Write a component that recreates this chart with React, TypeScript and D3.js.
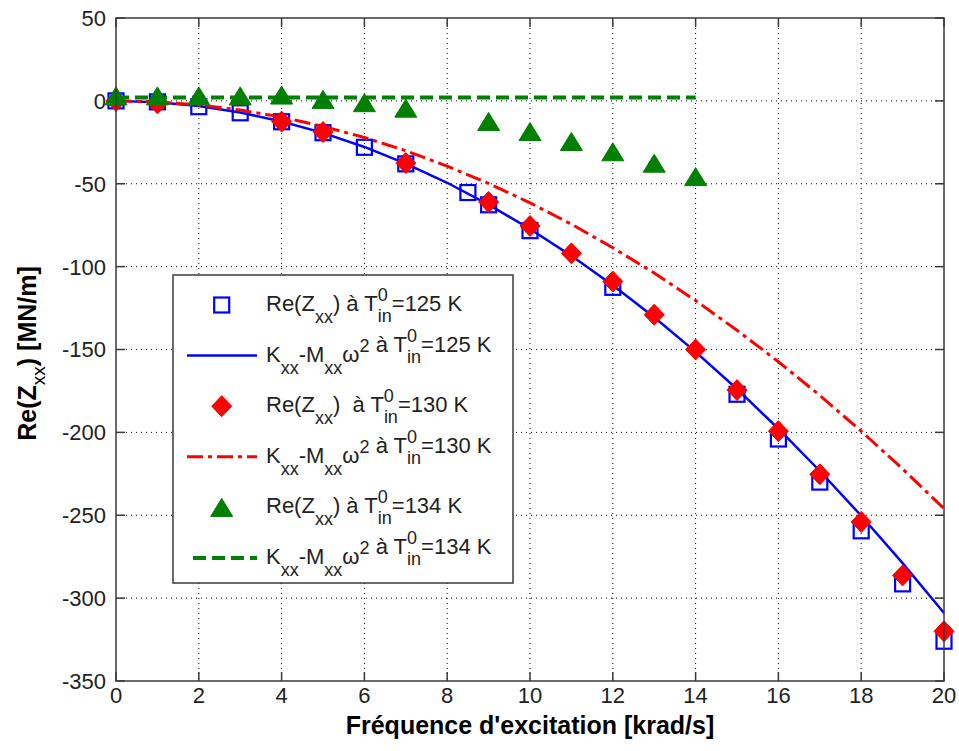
import React from "react";
import * as d3 from "d3";

// Reference data
const freqSquares = [0, 1, 2, 3, 4, 5, 6, 7, 8.5, 9, 10, 12, 15, 16, 17, 18, 19, 20];
const reSquares125 = [0, -0.6, -3.5, -7.2, -12.6, -19.2, -28, -38, -55.3, -62.7, -78.3, -112.5, -177, -204, -230, -259.4, -291.4, -326];

const freqDiamonds = [0, 1, 4, 5, 7, 9, 10, 11, 12, 13, 14, 15, 16, 17, 18, 19, 20];
const reDiamonds130 = [0, -1.5, -12.5, -18.8, -37.5, -61, -75.5, -92, -109, -129, -150, -174.5, -199.3, -225.3, -254, -286.3, -320];

const freqTriangles = [0, 1, 2, 3, 4, 5, 6, 7, 9, 10, 11, 12, 13, 14];
const reTriangles134 = [3, 3, 3, 3, 3.5, 0.9, -1.1, -4.4, -12.4, -18.5, -24.5, -30.7, -37.6, -45.7];

// model curves K - M w^2
const freqModel = [0, 1, 2, 3, 4, 5, 6, 7, 8, 9, 10, 11, 12, 13, 14, 15, 16, 17, 18, 19, 20];
const model125 = [0, -0.8, -3.1, -7, -12.4, -19.3, -27.8, -37.9, -49.4, -62.6, -77.3, -93.5, -111.2, -130.6, -151.4, -173.8, -197.8, -223.3, -250.3, -278.9, -309];
const model130 = [0, -0.6, -2.5, -5.5, -9.8, -15.4, -22.1, -30.1, -39.4, -49.8, -61.5, -74.4, -88.6, -103.9, -120.5, -138.4, -157.4, -177.7, -199.3, -222, -246];
const freqModel134 = [0, 1, 2, 3, 4, 5, 6, 7, 8, 9, 10, 11, 12, 13, 14];
const model134 = [2, 2, 2, 2, 2, 2, 2, 2, 2, 2, 2, 2, 2, 2, 2];

const xTicks = [0, 2, 4, 6, 8, 10, 12, 14, 16, 18, 20];
const yTicks = [50, 0, -50, -100, -150, -200, -250, -300, -350];
const legendTemps = ["125", "130", "134"];

const width = 959;
const height = 751;
const left = 116, right = 944, top = 18, bottom = 681;
const font = "'Liberation Sans', Arial, sans-serif";
const axisColor = "#3a3a3a";

const BLUE = "#0000ff";
const RED = "#ff0000";
const GREEN = "#008000";

const x = d3.scaleLinear().domain([0, 20]).range([left, right]);
const y = d3.scaleLinear().domain([-350, 50]).range([bottom, top]);

const square = (cx: number, cy: number, key: any) => (
  <rect key={key} x={cx - 7.5} y={cy - 7.5} width={15} height={15} fill="none" stroke={BLUE} strokeWidth={2.2} />
);
const diamond = (cx: number, cy: number, key: any) => (
  <path key={key} d={`M${cx},${cy - 10.5}L${cx + 10},${cy}L${cx},${cy + 10.5}L${cx - 10},${cy}Z`} fill={RED} stroke={RED} strokeWidth={1} />
);
const triangle = (cx: number, cy: number, key: any) => (
  <path key={key} d={`M${cx},${cy - 9}L${cx + 11},${cy + 9}L${cx - 11},${cy + 9}Z`} fill={GREEN} stroke={GREEN} strokeWidth={1} />
);

// T^0_in with stacked super/subscript
const TempLabel = ({ temp }: { temp: string }) => (
  <>
    <tspan> à T</tspan>
    <tspan fontSize={18} dy={-10}>0</tspan>
    <tspan fontSize={18} dx={-10} dy={21}>in</tspan>
    <tspan dy={-11}>={temp} K</tspan>
  </>
);

const ReLabel = ({ temp, extraSpace }: { temp: string; extraSpace?: boolean }) => (
  <>
    <tspan>Re(Z</tspan>
    <tspan fontSize={18} dy={12}>xx</tspan>
    <tspan dy={-12}>){extraSpace ? "\u00a0" : ""}</tspan>
    <TempLabel temp={temp} />
  </>
);

const ModelLabel = ({ temp }: { temp: string }) => (
  <>
    <tspan>K</tspan>
    <tspan fontSize={18} dy={12}>xx</tspan>
    <tspan dy={-12}>-M</tspan>
    <tspan fontSize={18} dy={12}>xx</tspan>
    <tspan dy={-12}>ω</tspan>
    <tspan fontSize={18} dy={-10}>2</tspan>
    <tspan dy={10}></tspan>
    <TempLabel temp={temp} />
  </>
);

const App = () => {
  const path = (xs: number[], ys: number[]) =>
    d3
      .line<number>()
      .x((d) => x(d))
      .y((_, i) => y(ys[i]))(xs) as string;

  const rowY = (i: number) => 305 + i * 50.6;
  const legendX = 266;

  return (
    <svg width={width} height={height} style={{ position: "absolute", left: 0, top: 0, background: "#fff" }} fontFamily={font}>
      <rect x={0} y={0} width={width} height={height} fill="#fff" />
      {/* grid */}
      <g stroke="#000" strokeWidth={1} strokeDasharray="1 4">
        {xTicks.slice(1, -1).map((t) => (
          <line key={"gx" + t} x1={x(t)} x2={x(t)} y1={top} y2={bottom} />
        ))}
        {yTicks.slice(1, -1).map((t) => (
          <line key={"gy" + t} x1={left} x2={right} y1={y(t)} y2={y(t)} />
        ))}
      </g>
      {/* ticks */}
      <g stroke={axisColor} strokeWidth={1.5}>
        {xTicks.map((t) => (
          <g key={"tx" + t}>
            <line x1={x(t)} x2={x(t)} y1={bottom} y2={bottom - 9} />
            <line x1={x(t)} x2={x(t)} y1={top} y2={top + 9} />
          </g>
        ))}
        {yTicks.map((t) => (
          <g key={"ty" + t}>
            <line x1={left} x2={left + 9} y1={y(t)} y2={y(t)} />
            <line x1={right} x2={right - 9} y1={y(t)} y2={y(t)} />
          </g>
        ))}
      </g>
      {/* tick labels */}
      <g fontSize={22} fill="#222">
        {xTicks.map((t) => (
          <text key={"lx" + t} x={x(t)} y={703} textAnchor="middle">
            {t}
          </text>
        ))}
        {yTicks.map((t) => (
          <text key={"ly" + t} x={106} y={y(t)} dy="0.36em" textAnchor="end">
            {t}
          </text>
        ))}
      </g>

      {/* series */}
      <g>{freqSquares.map((f, i) => square(x(f), y(reSquares125[i]), "s" + i))}</g>
      <path d={path(freqModel, model125)} fill="none" stroke={BLUE} strokeWidth={2.5} />
      <g>{freqDiamonds.map((f, i) => diamond(x(f), y(reDiamonds130[i]), "d" + i))}</g>
      <path d={path(freqModel, model130)} fill="none" stroke={RED} strokeWidth={3} strokeDasharray="16 5 4 5" />
      <g>{freqTriangles.map((f, i) => triangle(x(f), y(reTriangles134[i]), "t" + i))}</g>
      <path d={path(freqModel134, model134)} fill="none" stroke={GREEN} strokeWidth={4} strokeDasharray="13 6" />

      {/* axes box */}
      <rect x={left} y={top} width={right - left} height={bottom - top} fill="none" stroke={axisColor} strokeWidth={1.5} />

      {/* legend */}
      <rect x={173} y={275} width={340} height={308} fill="#fff" stroke={axisColor} strokeWidth={1.5} />
      {legendTemps.map((temp, k) => {
        const yMarker = rowY(2 * k);
        const yLine = rowY(2 * k + 1);
        const marker = k === 0 ? square(221.7, yMarker, "lm") : k === 1 ? diamond(221.7, yMarker, "lm") : triangle(221.7, yMarker, "lm");
        const color = k === 0 ? BLUE : k === 1 ? RED : GREEN;
        const dash = k === 0 ? undefined : k === 1 ? "16 5 4 5" : "13 6";
        const sw = k === 0 ? 2.5 : k === 1 ? 3 : 4;
        return (
          <g key={"leg" + temp}>
            {marker}
            <line x1={k === 2 ? 193 : 187} x2={257} y1={yLine} y2={yLine} stroke={color} strokeWidth={sw} strokeDasharray={dash} />
            <text x={legendX} y={yMarker + 6} fontSize={22} fill="#222">
              <ReLabel temp={temp} extraSpace={k === 1} />
            </text>
            <text x={legendX} y={yLine + 6} fontSize={22} fill="#222">
              <ModelLabel temp={temp} />
            </text>
          </g>
        );
      })}

      {/* axis labels */}
      <text x={(left + right) / 2} y={734} textAnchor="middle" fontSize={25} fontWeight="bold" fill="#000">
        Fréquence d'excitation [krad/s]
      </text>
      <text transform={`translate(36, ${(top + bottom) / 2 + 4}) rotate(-90)`} textAnchor="middle" fontSize={25} fontWeight="bold" fill="#000">
        <tspan>Re(Z</tspan>
        <tspan fontSize={19} fontWeight="normal" dy={9}>xx</tspan>
        <tspan dy={-9}>) [MN/m]</tspan>
      </text>
    </svg>
  );
};

export default App;
